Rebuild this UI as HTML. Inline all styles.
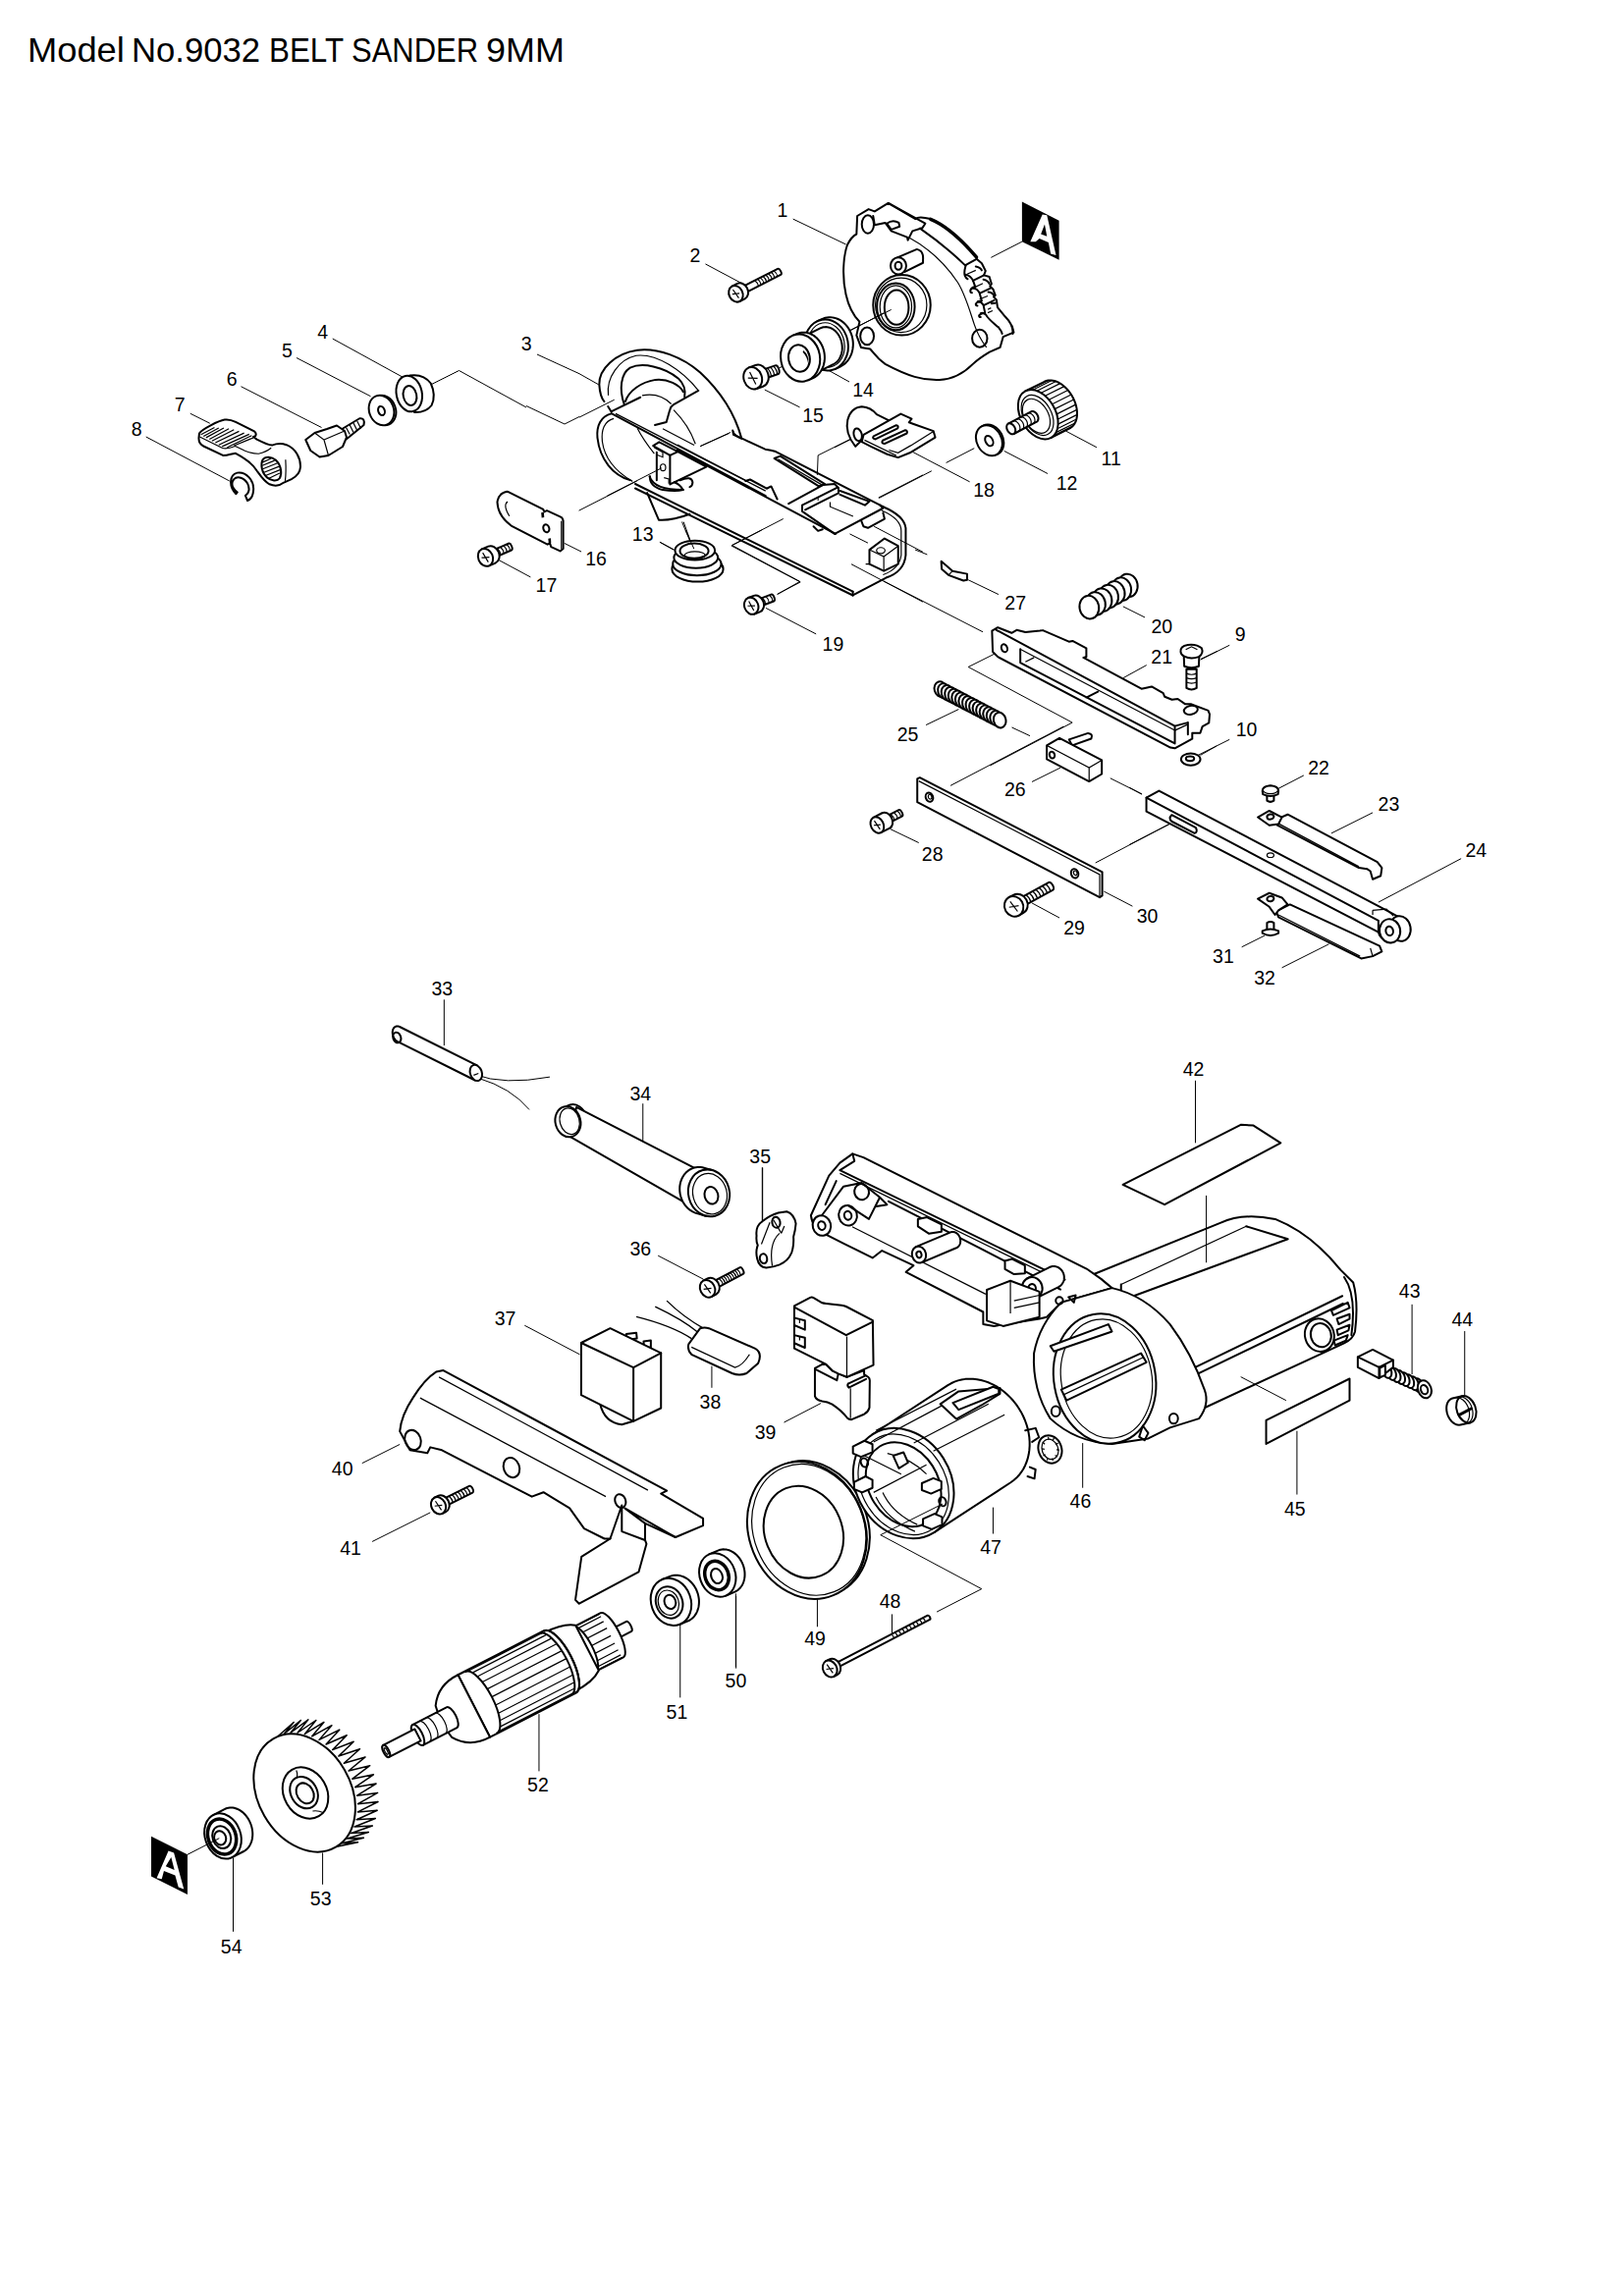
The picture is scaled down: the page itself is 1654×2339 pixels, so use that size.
<!DOCTYPE html>
<html><head><meta charset="utf-8">
<style>
html,body{margin:0;padding:0;background:#fff;width:1654px;height:2339px;overflow:hidden}
.tw{position:absolute;top:31.1px;font-family:"Liberation Sans",sans-serif;font-size:35px;line-height:normal;color:#000;white-space:nowrap;transform-origin:0 0}
svg{position:absolute;left:0;top:0}
svg *{vector-effect:non-scaling-stroke}
.o{fill:none;stroke:#000;stroke-width:2;stroke-linejoin:round;stroke-linecap:round}
.l{fill:none;stroke:#000;stroke-width:1}
.d{fill:none;stroke:#000;stroke-width:1.2}
.w{fill:#fff;stroke:#000;stroke-width:2;stroke-linejoin:round}
.wf{fill:#fff;stroke:none}
.k{fill:#000;stroke:none}
text{font-family:"Liberation Sans",sans-serif;font-size:19.5px;fill:#000;text-anchor:middle}
</style></head><body>
<div class="tw" style="left:27.6px;transform:scaleX(1.037)">Model</div><div class="tw" style="left:134.2px;transform:scaleX(0.99)">No.9032</div><div class="tw" style="left:273.9px;transform:scaleX(0.895)">BELT</div><div class="tw" style="left:358.3px;transform:scaleX(0.885)">SANDER</div><div class="tw" style="left:495.4px;transform:scaleX(1.026)">9MM</div>
<svg width="1654" height="2339" viewBox="0 0 1654 2339">
<!-- t00.svg -->
<path class="o" d="M647,493L868.6,602.7M647,497.5L868.6,606.5"/>
<g transform="translate(600,440) scale(0.0985)">
<path class="o" d="M600,630L720,910Q850,920 1040,850"/>
<path class="o" d="M630,460Q620,560 760,600Q900,620 970,600Q940,540 880,520M940,500Q1060,450 1070,520Q1070,560 1040,570"/>
<path class="l" d="M960,930L1080,1218M730,1140L870,1218"/>
</g>
<text x="654.7" y="550.5">13</text>

<!-- t01.svg -->
<g transform="translate(130,320) scale(0.25)">
<path class="l" d="M835,100L1130,262M688,178L990,335M462,295L790,462M255,405L335,445M75,500L415,680M1240,285L1350,230L1624,380"/>
<!-- part 4 ring -->
<path class="w" d="M1150,250Q1205,242 1235,282Q1258,332 1238,372Q1215,402 1168,400Z"/>
<ellipse class="w" cx="1147" cy="324" rx="52" ry="74" transform="rotate(-12 1147 324)"/>
<ellipse class="o" cx="1150" cy="332" rx="27" ry="40" transform="rotate(-12 1150 332)"/>
<!-- part 5 washer -->
<ellipse class="w" cx="1042" cy="392" rx="50" ry="62" transform="rotate(-20 1042 392)"/>
<ellipse class="w" cx="1034" cy="392" rx="50" ry="62" transform="rotate(-20 1034 392)"/>
<ellipse class="o" cx="1034" cy="394" rx="13" ry="19" transform="rotate(-20 1034 394)"/>
<!-- part 6 hex + stud -->
<path class="w" d="M870,470L945,425Q968,422 962,452L893,508Z"/>
<path class="d" d="M890,462L905,490M905,452L920,482M920,444L935,474M935,436L950,466"/>
<path class="w" d="M725,512L762,484L812,468L852,454L884,476L892,502L876,540L818,576L782,582L745,556Z"/>
<path class="d" d="M762,484L800,512L818,576M800,512L884,476"/>
</g>
<g transform="translate(190,420) scale(0.0862)">
<!-- part 7 lever -->
<path class="w" d="M150,250C180,200 380,100 450,88C500,80 540,95 580,115L800,225Q830,245 815,280L790,290L830,320C880,345 960,385 1010,390C1050,375 1120,365 1180,385C1290,430 1350,540 1345,650C1340,720 1300,760 1240,790L1150,830C1100,870 1040,875 980,850C920,820 880,760 830,690C790,620 720,560 580,485L520,495Q470,510 430,510L200,400Q140,370 145,300Z"/>
<path class="d" d="M155,290L420,420Q470,440 575,400Q640,430 690,455Q780,490 850,490Q940,470 1000,420"/>
<path class="d" d="M1170,560C1175,650 1175,740 1165,810"/>
<path class="o" d="M900,560C930,520 1000,520 1060,570C1120,630 1130,730 1100,780C1070,820 1000,810 950,770C890,720 870,620 900,560Z"/>
<path class="d" d="M900,590L1000,545M895,630L1040,570M900,670L1075,600M915,710L1095,640M940,745L1105,680M975,780L1100,720"/>
<path class="d" d="M170,265L330,180M200,285L380,185M230,300L440,185M270,320L500,195M300,340L560,205M340,360L620,225M380,385L680,245M420,405L740,260M480,415L770,275M560,395L790,300"/>
<!-- part 8 e-ring -->
<path class="w" d="M585,965C500,880 500,740 600,715C700,700 800,800 790,920C785,990 760,1030 720,1045L695,985C740,960 750,900 720,840C680,770 600,750 560,790C520,840 545,900 600,945Z"/>
</g>
<text x="328.75" y="345">4</text>
<text x="292.5" y="363.5">5</text>
<text x="236.25" y="393">6</text>
<text x="183.25" y="419">7</text>
<text x="139.25" y="443.5">8</text>

<!-- t02.svg -->
<g transform="translate(590,345) scale(0.1232)">
<path class="o" d="M207,520C185,495 170,460 165,380C160,250 300,120 480,95C650,75 850,150 1000,280C1150,420 1280,600 1340,820M237,560L262,600"/>
<path class="o" d="M270,600L505,485M370,540C330,420 340,290 420,240C520,195 700,230 820,330C870,380 880,430 870,480"/>
<path class="o" d="M985,430L780,545Q755,560 748,590L720,690L625,715"/>
<path class="o" d="M380,520C410,430 510,360 630,340C730,330 830,380 860,440"/>
<path class="o" d="M265,620C180,640 140,720 150,820C170,1000 280,1130 420,1170"/>
<path class="o" d="M265,618L1540,1299"/>
<path class="d" d="M300,620L1540,1259"/>
<path class="d" d="M240,470C220,320 330,170 470,140C640,120 850,260 985,430"/>
<path class="d" d="M520,470C620,450 700,480 760,540M780,590C850,660 920,760 960,870M690,745L950,880"/>
<path class="d" d="M285,660C205,680 180,760 190,850C210,1000 320,1110 440,1180"/>
<path class="d" d="M480,740C520,820 580,900 620,950"/>
<path class="o" d="M610,885L660,855L815,935L750,965Z"/>
<path class="o" d="M750,965L750,1205M815,935L1040,1055M750,1205L1050,1060M640,940L640,1170M580,1140C610,1220 700,1250 860,1250"/>
<ellipse class="d" cx="692" cy="1065" rx="22" ry="28"/>
<path class="d" d="M620,900L690,940L690,980L640,960M700,1150L740,1160L740,1200"/>
<path class="o" d="M1270,770L1275,795L1340,825"/>
<path class="l" d="M0,650L290,505M0,290L160,380M230,1300L680,1070M1000,890L1250,775"/>
</g>

<!-- t03.svg -->
<g transform="translate(690,430) scale(0.15394)">
<path class="o" d="M0,185L1045,740"/>
<path class="d" d="M0,150L450,385"/>
<path class="o" d="M365,55Q370,90 430,110L580,180Q620,185 650,195L1360,560"/>
<path class="o" d="M1360,560Q1500,620 1510,700L1510,880Q1500,990 1380,1030L1160,1145"/>
<path class="d" d="M1350,585Q1480,640 1480,720L1480,880Q1470,970 1360,1010"/>
<path class="o" d="M1160,1122L1160,1147"/>
<path class="o" d="M640,240L680,225L975,410L935,425Z"/>
<path class="d" d="M665,245L955,415"/>
<path class="o" d="M1075,455L1270,525L1240,550L1075,480"/>
<path class="o" d="M735,540L965,415L1040,410L1065,435L1065,470M825,550L1055,435M825,550L825,590L1040,740L1360,570L1340,550M845,580L1065,470"/>
<path class="d" d="M1010,530L1010,560L1200,640" stroke-dasharray="30,20"/>
<path class="o" d="M1215,650L1230,690L1260,700L1370,640L1360,600"/>
<path class="o" d="M450,390L480,380L590,440L620,425L660,510"/>
<path class="o" d="M900,690L930,720L960,710"/>
<path class="w" d="M1270,845L1370,770L1460,820L1460,940L1365,985L1270,940Z"/>
<path class="d" d="M1270,845L1365,890L1460,820M1365,890L1365,985M1270,940L1245,940"/>
<ellipse class="d" cx="1345" cy="850" rx="28" ry="20"/>
<path class="l" d="M360,815L700,640M360,815L810,1055L660,1140M1150,940L1624,1190M1140,740L1260,800M1300,690L1624,860M1180,95L930,220L925,350M930,500L930,520M1330,500L1624,350M150,160L340,75M40,660L105,840"/>
</g>

<!-- t04.svg -->
<g transform="translate(840,200) scale(0.15394)">
<path class="wf" d="M215,130L290,85L330,100L420,45L600,150Q620,130 700,150C800,190 900,280 1000,400L1010,430L1060,470L1070,520L1100,560L1110,620L1130,650L1135,720L1150,760L1240,860L1250,900L1180,930L1160,1000L1090,1030C1040,1060 1010,1080 980,1110C920,1170 850,1210 760,1215C650,1220 550,1190 400,1110C340,1070 320,1030 300,1010L240,1000L210,920L230,830C200,800 160,740 140,650C115,540 120,400 150,320C170,280 190,260 210,250Z"/>
<path class="o" d="M1000,400C900,280 800,190 700,150Q620,130 600,150L420,45L330,100L290,85L215,130L210,250C190,260 170,280 150,320C120,400 115,540 140,650C160,740 200,800 230,830L210,920L240,1000L300,1010C320,1030 340,1070 400,1110C550,1190 650,1220 760,1215C850,1210 920,1170 980,1110C1010,1080 1040,1060 1090,1030L1160,1000L1180,930L1250,900L1240,860"/>
<path class="o" d="M420,45L665,180L645,210L580,230L550,290L545,270L440,230L400,175L330,190L320,130"/>
<path class="o" d="M630,212C720,275 830,360 926,454"/>
<path class="o" style="stroke-width:3.5" d="M700,152C800,192 900,282 1003,402"/>
<path class="d" d="M560,275C700,350 800,450 880,570C930,650 960,760 990,850C1010,910 1040,960 1070,1000"/>
<ellipse class="w" cx="510" cy="720" rx="190" ry="200"/>
<ellipse class="d" cx="505" cy="720" rx="170" ry="180"/>
<ellipse class="o" cx="470" cy="730" rx="125" ry="155"/>
<ellipse class="d" cx="470" cy="730" rx="105" ry="140"/>
<ellipse class="o" cx="475" cy="735" rx="80" ry="115"/>
<path class="w" d="M480,405L610,350Q655,360 650,420L650,440L530,500Z"/>
<ellipse class="w" cx="487" cy="460" rx="52" ry="56"/>
<ellipse class="o" cx="487" cy="460" rx="22" ry="26"/>
<ellipse class="o" cx="280" cy="925" rx="45" ry="58"/>
<ellipse class="o" cx="1025" cy="940" rx="50" ry="58"/>
<ellipse class="o" cx="285" cy="185" rx="40" ry="60"/>
<path class="o" d="M410,180Q450,150 490,175L495,200L440,220Z"/>
<path class="k" d="M1305,35L1550,160L1550,420L1305,300Z"/>
<path d="M1360,300L1440,120L1470,125L1530,390L1495,380L1480,305L1420,280L1395,300ZM1430,250L1470,265L1455,185Z" fill="#fff"/>
<path class="l" d="M1100,405L1305,300M160,890L440,750"/>
</g>
<g transform="translate(960,220) scale(0.05542)">
<path class="o" d="M420,905L625,790"/>
<path class="o" d="M625,790L720,870L790,1010L760,1090L860,1120L900,1250L870,1290L930,1350L970,1460L940,1490L990,1540L1010,1680L1150,1850C1250,1950 1300,2050 1290,2165"/>
<path class="o" d="M425,910C405,980 395,1060 410,1100Q430,1150 460,1160M430,1080Q520,1100 560,1190L600,1300Q530,1310 510,1370Q510,1410 540,1410M560,1330Q640,1330 680,1420L720,1560Q640,1560 610,1620Q610,1650 640,1650M650,1570Q720,1580 750,1640L780,1780Q700,1790 670,1830Q670,1860 700,1860M700,1790Q760,1770 800,1820C840,1900 950,1980 1030,2050C1070,2100 1090,2140 1095,2165"/>
<path class="o" d="M560,1190L760,1090M690,1420L880,1330M760,1640L950,1550M610,930Q700,950 720,1000M750,1170Q840,1190 860,1250M840,1400Q920,1410 940,1460M900,1610L970,1600"/>
<path class="d" d="M450,1070L610,1000M570,1320L740,1240M680,1530L830,1470M830,1720L890,1690M830,1780L920,1740"/>
</g>
<text x="797" y="221">1</text>

<!-- t05.svg -->
<g transform="translate(700,240) scale(0.12315)">
<path class="l" d="M150,235L460,400M1160,1110L1340,1210M760,1095L900,1025M1340,790L1624,640M640,1275L930,1420"/>
<!-- part 14 -->
<path class="w" d="M1075.7,707.9L1115.7,689.9L1128.9,684.6L1142.4,680.5L1156.3,677.7L1170.3,676.2L1184.5,676.0L1198.7,677.0L1212.9,679.4L1226.9,683.1L1240.7,688.0L1254.2,694.1L1267.3,701.5L1279.9,709.9L1291.9,719.5L1303.4,730.1L1314.1,741.6L1324.1,754.1L1333.2,767.4L1341.4,781.4L1348.8,796.1L1355.1,811.3L1360.4,827.0L1364.7,843.1L1367.9,859.4L1370.0,875.9L1371.0,892.5L1370.8,909.0L1369.6,925.4L1367.2,941.6L1363.8,957.4L1359.3,972.8L1353.7,987.7L1347.2,1001.9L1339.6,1015.5L1331.2,1028.2L1321.8,1040.1L1311.7,1051.0L1300.8,1060.9L1289.2,1069.8L1277.0,1077.5L1264.3,1084.1L1224.3,1102.1Z"/>
<ellipse class="w" cx="1150.0" cy="905.0" rx="180.0" ry="212.0" transform="rotate(-10.0 1150.0 905.0)"/>
<ellipse class="d" cx="1150.0" cy="905.0" rx="150.0" ry="185.0" transform="rotate(-10.0 1150.0 905.0)"/>
<path class="w" d="M929.2,851.9L1099.2,766.9L1108.3,762.8L1117.6,759.6L1127.2,757.4L1137.0,756.2L1146.8,756.0L1156.7,756.7L1166.6,758.4L1176.4,761.1L1186.1,764.8L1195.6,769.3L1204.9,774.8L1213.8,781.1L1222.4,788.2L1230.6,796.2L1238.3,804.8L1245.4,814.2L1252.1,824.1L1258.1,834.6L1263.5,845.7L1268.2,857.1L1272.2,868.9L1275.5,881.0L1278.1,893.3L1279.9,905.7L1280.9,918.2L1281.2,930.7L1280.7,943.0L1279.4,955.2L1277.3,967.2L1274.5,978.8L1270.9,990.1L1266.7,1000.8L1261.7,1011.1L1256.1,1020.7L1249.8,1029.7L1243.0,1038.0L1235.6,1045.5L1227.8,1052.3L1219.5,1058.1L1210.8,1063.1L1040.8,1148.1Z"/>
<path class="w" d="M871.1,827.9L909.1,811.9L921.1,807.4L933.4,804.1L946.0,801.9L958.7,801.0L971.5,801.2L984.3,802.7L997.0,805.3L1009.6,809.2L1021.9,814.1L1034.0,820.2L1045.7,827.4L1056.9,835.6L1067.6,844.9L1077.8,855.0L1087.3,866.0L1096.0,877.8L1104.1,890.4L1111.3,903.5L1117.6,917.3L1123.1,931.6L1127.7,946.2L1131.3,961.1L1133.9,976.3L1135.5,991.6L1136.1,1006.9L1135.7,1022.2L1134.4,1037.2L1132.0,1052.1L1128.6,1066.6L1124.3,1080.6L1119.0,1094.1L1112.9,1107.1L1105.9,1119.3L1098.0,1130.8L1089.4,1141.4L1080.1,1151.2L1070.1,1160.0L1059.5,1167.8L1048.4,1174.5L1036.9,1180.1L998.9,1196.1Z"/>
<ellipse class="w" cx="935.0" cy="1012.0" rx="162.0" ry="196.0" transform="rotate(-10.0 935.0 1012.0)"/>
<ellipse class="o" cx="925.0" cy="1015.0" rx="88.0" ry="112.0" transform="rotate(-10.0 925.0 1015.0)"/>
<path class="k" d="M960,950Q1010,990 1000,1060Q990,1000 955,965Z"/>
</g>
<g transform="translate(754.8,296.6) rotate(-26.9)"><path class="w" d="M0,-3.4L43.5,-3.4A1.7,3.4 0 0 1 43.5,3.4L0,3.4Z"/><path class="d" d="M17.4,-3.4Q19.1,0 18.1,3.4M20.5,-3.4Q22.2,0 21.2,3.4M23.6,-3.4Q25.3,0 24.3,3.4M26.7,-3.4Q28.4,0 27.4,3.4M29.8,-3.4Q31.5,0 30.5,3.4M32.9,-3.4Q34.6,0 33.6,3.4M36.0,-3.4Q37.7,0 36.7,3.4M39.1,-3.4Q40.9,0 39.8,3.4"/><path class="w" d="M-6.0,-8.6L0,-8.6A6.9,8.6 0 0 1 0,8.6L-6.0,8.6Z"/><ellipse class="w" cx="-6.0" cy="0" rx="6.9" ry="8.6"/><path class="d" d="M-9.4,-1.3L-2.6,1.3M-6.7,-5.2L-5.3,5.2"/></g>
<g transform="translate(773.3,382.9) rotate(-19.2)"><path class="w" d="M0,-4.6L18.8,-4.6A2.3,4.6 0 0 1 18.8,4.6L0,4.6Z"/><path class="d" d="M3.8,-4.6Q6.1,0 4.7,4.6M7.1,-4.6Q9.4,0 8.0,4.6M10.3,-4.6Q12.6,0 11.3,4.6M13.6,-4.6Q15.9,0 14.6,4.6M16.9,-4.6Q19.2,0 17.8,4.6"/><path class="w" d="M-7.0,-11.5L0,-11.5A9.2,11.5 0 0 1 0,11.5L-7.0,11.5Z"/><ellipse class="w" cx="-7.0" cy="0" rx="9.2" ry="11.5"/><path class="d" d="M-11.6,-1.7L-2.4,1.7M-7.9,-6.9L-6.1,6.9"/></g>
<text x="708" y="267">2</text>
<text x="879" y="404">14</text>
<text x="828" y="430">15</text>

<!-- t06.svg -->
<g transform="translate(850,380) scale(0.18473)">
<path class="l" d="M430,435L745,600M0,410L130,345M935,430L1175,555M770,415L615,495M535,540L245,690M1275,320L1445,410"/>
<!-- part 18 -->
<path class="w" d="M115,405Q55,330 72,258Q90,190 150,185Q200,188 232,228L300,262L140,380Z"/>
<path class="w" d="M160,340L365,225L425,252L410,272L432,280L545,320L555,355L415,440L350,466L290,448L200,405L150,380Z"/>
<path class="d" d="M165,370L340,455M545,322L420,400L350,440L300,425"/>
<ellipse class="o" cx="128" cy="340" rx="22" ry="35" transform="rotate(-15 128 340)"/>
<path class="o" d="M215,348L340,288Q355,290 348,305L225,365Q205,362 215,348ZM265,372L390,315Q405,318 398,333L275,390Q255,387 265,372Z"/>
<!-- part 12 -->
<ellipse class="w" cx="860" cy="368" rx="68" ry="88" transform="rotate(-28 860 368)"/>
<ellipse class="w" cx="852" cy="372" rx="68" ry="88" transform="rotate(-28 852 372)"/>
<ellipse class="o" cx="852" cy="374" rx="20" ry="30" transform="rotate(-28 852 374)"/>
</g>
<g transform="translate(1020,380) scale(0.05542)">
<path class="w" d="M439.1,333.3L789.1,158.3L812.1,148.1L836.5,140.7L862.0,136.0L888.5,134.0L915.8,134.9L943.7,138.5L972.2,145.0L1000.9,154.1L1029.8,165.9L1058.6,180.3L1087.2,197.2L1115.4,216.6L1143.0,238.2L1169.9,261.9L1195.9,287.7L1220.8,315.3L1244.5,344.6L1266.8,375.3L1287.6,407.4L1306.7,440.6L1324.1,474.7L1339.6,509.5L1353.2,544.7L1364.8,580.2L1374.2,615.8L1381.4,651.2L1386.5,686.2L1389.2,720.5L1389.8,754.1L1388.0,786.6L1384.0,817.9L1377.8,847.8L1369.4,876.0L1358.8,902.5L1346.2,927.1L1331.5,949.5L1315.0,969.7L1296.6,987.5L1276.5,1002.9L1254.9,1015.7L904.9,1190.7Z"/>
<path class="d" d="M503.4,312.2L853.4,137.2M575.0,310.8L925.0,135.8M650.9,329.1L1000.9,154.1M727.7,366.3L1077.7,191.3M802.1,420.9L1152.1,245.9M870.8,490.3L1220.8,315.3M930.8,571.6L1280.8,396.6M979.5,661.2L1329.5,486.2M1014.8,755.2L1364.8,580.2M1035.0,849.6L1385.0,674.6M1039.4,940.1L1389.4,765.1M1027.8,1022.8L1377.8,847.8M1000.6,1094.1L1350.6,919.1M959.0,1150.9L1309.0,975.9"/>
<ellipse class="w" cx="672.0" cy="762.0" rx="320.0" ry="488.0" transform="rotate(-29.5 672.0 762.0)"/>
<ellipse class="d" cx="660.0" cy="775.0" rx="255.0" ry="400.0" transform="rotate(-29.5 660.0 775.0)"/>
<ellipse class="d" cx="640.0" cy="790.0" rx="220.0" ry="340.0" transform="rotate(-29.5 640.0 790.0)"/>
<path class="w" d="M123.4,931.3L543.4,709.3L548.6,706.9L554.0,705.1L559.7,704.0L565.6,703.4L571.7,703.5L577.9,704.1L584.2,705.4L590.6,707.3L597.1,709.8L603.5,712.8L609.8,716.4L616.1,720.5L622.3,725.2L628.2,730.3L634.0,735.9L639.5,741.9L644.8,748.2L649.7,754.9L654.3,761.9L658.6,769.2L662.4,776.6L665.9,784.3L668.9,792.0L671.4,799.8L673.5,807.6L675.1,815.4L676.2,823.1L676.8,830.7L676.8,838.2L676.4,845.4L675.5,852.3L674.1,859.0L672.2,865.2L669.8,871.2L667.0,876.7L663.7,881.7L660.0,886.2L655.9,890.3L651.4,893.8L646.6,896.7L226.6,1118.7Z"/>
<ellipse class="w" cx="175.0" cy="1025.0" rx="72.0" ry="107.0" transform="rotate(-29.5 175.0 1025.0)"/>
<path class="d" d="M207.4,886.9L220.8,882.1L235.7,881.1L251.4,883.9L267.5,890.4L283.2,900.4L298.0,913.5L311.3,929.1L322.6,946.8L331.4,965.7L337.5,985.2L340.5,1004.6L340.4,1023.0L337.2,1039.7L331.0,1054.3L322.0,1065.9L310.6,1074.3M275.7,850.8L289.1,846.0L303.9,845.0L319.7,847.8L335.7,854.3L351.5,864.3L366.2,877.4L379.5,893.1L390.8,910.7L399.7,929.6L405.7,949.1L408.8,968.5L408.7,986.9L405.5,1003.7L399.2,1018.2L390.2,1029.9L378.8,1038.3M343.9,814.7L357.3,809.9L372.2,808.9L387.9,811.7L404.0,818.3L419.7,828.3L434.5,841.3L447.8,857.0L459.1,874.6L467.9,893.6L474.0,913.1L477.0,932.4L476.9,950.8L473.7,967.6L467.5,982.1L458.5,993.8L447.1,1002.2M412.2,778.6L425.6,773.8L440.4,772.8L456.2,775.6L472.2,782.2L488.0,792.2L502.7,805.3L516.0,820.9L527.3,838.6L536.2,857.5L542.2,877.0L545.3,896.3L545.2,914.7L542.0,931.5L535.7,946.0L526.7,957.7L515.3,966.1M480.4,742.6L493.8,737.8L508.7,736.8L524.4,739.6L540.5,746.1L556.2,756.1L571.0,769.2L584.3,784.8L595.6,802.5L604.4,821.4L610.5,840.9L613.5,860.3L613.4,878.7L610.2,895.4L604.0,910.0L595.0,921.6L583.6,930.0"/>
</g>
<text x="1002" y="505.5">18</text>
<text x="1086.5" y="499">12</text>
<text x="1131.7" y="474">11</text>

<!-- t07.svg -->
<g transform="translate(480,490) scale(0.12315)">
<path class="l" d="M770,515L910,585M220,650L490,795M890,245L1370,0"/>
<path class="w" d="M295,88Q225,100 215,175Q220,290 330,370L630,525L650,515L660,545L735,580L760,560L760,330Q758,305 735,295L625,245L605,255L595,235L310,92Z"/>
<path class="d" d="M745,330L745,565M300,170Q260,200 315,290"/>
<path class="k" d="M578,262L600,258L603,300L582,305ZM636,478L658,474L660,512L640,516Z"/>
<ellipse class="o" cx="620" cy="392" rx="24" ry="33" transform="rotate(-20 620 392)"/>
</g>
<g transform="translate(500.9,565.1) rotate(-23.4)"><path class="w" d="M0,-3.7L20.1,-3.7A1.9,3.7 0 0 1 20.1,3.7L0,3.7Z"/><path class="d" d="M4.0,-3.7Q5.9,0 4.8,3.7M7.5,-3.7Q9.4,0 8.3,3.7M11.1,-3.7Q12.9,0 11.8,3.7M14.6,-3.7Q16.4,0 15.3,3.7M18.1,-3.7Q19.9,0 18.8,3.7"/><path class="w" d="M-7.0,-9.2L0,-9.2A7.4,9.2 0 0 1 0,9.2L-7.0,9.2Z"/><ellipse class="w" cx="-7.0" cy="0" rx="7.4" ry="9.2"/><path class="d" d="M-10.7,-1.4L-3.3,1.4M-7.7,-5.5L-6.3,5.5"/></g>
<text x="607" y="576">16</text>
<text x="556.4" y="603">17</text>

<!-- t08.svg -->
<g transform="translate(660,540) scale(0.12315)">
<path class="l" d="M100,100L220,165M690,130L940,0M690,130L1260,430L1070,530M975,645L1390,860"/>
<ellipse class="w" cx="410" cy="322" rx="212" ry="105"/>
<ellipse class="w" cx="405" cy="280" rx="200" ry="95"/>
<ellipse class="w" cx="396" cy="228" rx="182" ry="86"/>
<ellipse class="w" cx="388" cy="168" rx="165" ry="80"/>
<ellipse class="o" cx="382" cy="172" rx="118" ry="62"/>
<ellipse class="d" cx="388" cy="208" rx="85" ry="30"/>
<path class="l" d="M310,0L380,155"/>
</g>
<g transform="translate(770.8,615.1) rotate(-20.9)"><path class="w" d="M0,-3.7L17.0,-3.7A1.9,3.7 0 0 1 17.0,3.7L0,3.7Z"/><path class="d" d="M3.4,-3.7Q5.2,0 4.1,3.7M7.4,-3.7Q9.2,0 8.1,3.7M11.3,-3.7Q13.2,0 12.1,3.7M15.3,-3.7Q17.2,0 16.0,3.7"/><path class="w" d="M-6.0,-8.8L0,-8.8A7.0,8.8 0 0 1 0,8.8L-6.0,8.8Z"/><ellipse class="w" cx="-6.0" cy="0" rx="7.0" ry="8.8"/><path class="d" d="M-9.5,-1.3L-2.5,1.3M-6.7,-5.3L-5.3,5.3"/></g>
<text x="848.4" y="662.5">19</text>

<!-- t09.svg -->
<path class="l" d="M536,413.5L575,432L590,424.5M547,361L590,380.7M807.7,223.1L861.6,249"/>
<text x="536.2" y="356.5">3</text>

<!-- t10.svg -->
<g transform="translate(900,560) scale(0.2463)">
<path class="l" d="M350,125L475,185M130,0L180,20M990,235L1080,280M0,130L410,340M470,425L350,485L780,715L440,893M175,725L310,660M530,735L605,770M1430,785L1300,850M1310,455L1430,395"/>
<path class="w" d="M238,48L240,80L268,105L330,128L345,125L345,100L285,88Z"/><path class="d" d="M268,105L285,88"/>
<ellipse class="w" cx="1010.0" cy="148.0" rx="40.0" ry="48.0" transform="rotate(-10.0 1010.0 148.0)"/>
<ellipse class="w" cx="983.3" cy="163.0" rx="40.0" ry="48.0" transform="rotate(-10.0 983.3 163.0)"/>
<ellipse class="w" cx="956.7" cy="178.0" rx="40.0" ry="48.0" transform="rotate(-10.0 956.7 178.0)"/>
<ellipse class="w" cx="930.0" cy="193.0" rx="40.0" ry="48.0" transform="rotate(-10.0 930.0 193.0)"/>
<ellipse class="w" cx="903.3" cy="208.0" rx="40.0" ry="48.0" transform="rotate(-10.0 903.3 208.0)"/>
<ellipse class="w" cx="876.7" cy="223.0" rx="40.0" ry="48.0" transform="rotate(-10.0 876.7 223.0)"/>
<ellipse class="w" cx="850.0" cy="238.0" rx="40.0" ry="48.0" transform="rotate(-10.0 850.0 238.0)"/>
<ellipse class="w" cx="235.0" cy="577.0" rx="25.0" ry="32.0" transform="rotate(-15.0 235.0 577.0)"/>
<ellipse class="w" cx="249.4" cy="584.5" rx="25.0" ry="32.0" transform="rotate(-15.0 249.4 584.5)"/>
<ellipse class="w" cx="263.8" cy="592.1" rx="25.0" ry="32.0" transform="rotate(-15.0 263.8 592.1)"/>
<ellipse class="w" cx="278.2" cy="599.6" rx="25.0" ry="32.0" transform="rotate(-15.0 278.2 599.6)"/>
<ellipse class="w" cx="292.6" cy="607.1" rx="25.0" ry="32.0" transform="rotate(-15.0 292.6 607.1)"/>
<ellipse class="w" cx="307.1" cy="614.6" rx="25.0" ry="32.0" transform="rotate(-15.0 307.1 614.6)"/>
<ellipse class="w" cx="321.5" cy="622.2" rx="25.0" ry="32.0" transform="rotate(-15.0 321.5 622.2)"/>
<ellipse class="w" cx="335.9" cy="629.7" rx="25.0" ry="32.0" transform="rotate(-15.0 335.9 629.7)"/>
<ellipse class="w" cx="350.3" cy="637.2" rx="25.0" ry="32.0" transform="rotate(-15.0 350.3 637.2)"/>
<ellipse class="w" cx="364.7" cy="644.8" rx="25.0" ry="32.0" transform="rotate(-15.0 364.7 644.8)"/>
<ellipse class="w" cx="379.1" cy="652.3" rx="25.0" ry="32.0" transform="rotate(-15.0 379.1 652.3)"/>
<ellipse class="w" cx="393.5" cy="659.8" rx="25.0" ry="32.0" transform="rotate(-15.0 393.5 659.8)"/>
<ellipse class="w" cx="407.9" cy="667.4" rx="25.0" ry="32.0" transform="rotate(-15.0 407.9 667.4)"/>
<ellipse class="w" cx="422.4" cy="674.9" rx="25.0" ry="32.0" transform="rotate(-15.0 422.4 674.9)"/>
<ellipse class="w" cx="436.8" cy="682.4" rx="25.0" ry="32.0" transform="rotate(-15.0 436.8 682.4)"/>
<ellipse class="w" cx="451.2" cy="689.9" rx="25.0" ry="32.0" transform="rotate(-15.0 451.2 689.9)"/>
<ellipse class="w" cx="465.6" cy="697.5" rx="25.0" ry="32.0" transform="rotate(-15.0 465.6 697.5)"/>
<ellipse class="w" cx="480.0" cy="705.0" rx="25.0" ry="32.0" transform="rotate(-15.0 480.0 705.0)"/>
</g>
<g transform="translate(1000,630) scale(0.14778)">
<path class="w" d="M70,85L110,62L205,100L240,80L300,95L400,85L420,82L600,160L625,155L720,205L720,265L700,270L1100,485L1170,470L1250,515L1260,540L1310,560L1350,555L1400,590L1440,590L1560,635L1570,660L1565,720L1520,745L1505,790L1450,790L1450,830L1330,895L1300,890L110,265L75,230Z"/>
<path class="o" d="M100,80L1330,742L1420,718M265,212L265,305L1330,862M720,545L800,505M1330,742L1330,862M1420,718L1420,800"/>
<path class="d" d="M270,215L1330,772M300,300L360,270M1330,772L1420,730M700,270L720,265"/>
<ellipse class="o" cx="155.0" cy="205.0" rx="20.0" ry="28.0" transform="rotate(-20.0 155.0 205.0)"/>
<ellipse class="o" cx="1440.0" cy="632.0" rx="48.0" ry="30.0" transform="rotate(-10.0 1440.0 632.0)"/>
<path class="w" d="M1410,480L1410,350L1480,350L1480,480Q1445,500 1410,480Z"/>
<path class="d" d="M1410,380Q1445,395 1480,380M1410,410Q1445,425 1480,410M1410,440Q1445,455 1480,440"/>
<path class="w" d="M1392,260L1395,330Q1445,350 1495,330L1498,260Z"/>
<path class="w" d="M1370,230Q1365,190 1420,182Q1480,175 1515,205Q1530,240 1495,265Q1440,285 1395,262Q1372,250 1370,230Z"/>
<path class="d" d="M1405,215L1445,195L1485,215"/>
<path class="l" d="M975,410L1135,322M1510,280L1624,225"/>
</g>
<text x="1034.2" y="620.5">27</text>
<text x="1183.3" y="645">20</text>
<text x="1183.2" y="675.5">21</text>
<text x="1263.3" y="652.5">9</text>
<text x="924.6" y="754.5">25</text>
<text x="1269.5" y="749.5">10</text>

<!-- t11.svg -->
<g transform="translate(870,740) scale(0.21552)">
<path class="l" d="M1180,780L1315,850M455,280L990,0M1140,645L1520,445M840,262L975,195M1210,245L1360,320M170,485L305,550M840,835L970,905"/>
<path class="w" d="M298,248L310,242L1172,688L1172,800L1160,808L298,358Z"/>
<path class="d" d="M305,258L1160,700L1160,808"/>
<ellipse class="o" cx="355.0" cy="335.0" rx="17.0" ry="22.0" transform="rotate(-20.0 355.0 335.0)"/><ellipse class="o" cx="1042.0" cy="695.0" rx="17.0" ry="22.0" transform="rotate(-20.0 1042.0 695.0)"/><ellipse class="d" cx="358.0" cy="333.0" rx="8.0" ry="11.0" transform="rotate(-20.0 358.0 333.0)"/><ellipse class="d" cx="1045.0" cy="693.0" rx="8.0" ry="11.0" transform="rotate(-20.0 1045.0 693.0)"/>
<path class="w" d="M1015,62L1105,32Q1130,35 1120,58L1030,90Z"/>
<path class="w" d="M910,90L970,55L1170,160L1170,225L1110,260L910,155Z"/>
<path class="d" d="M910,90L1110,195L1170,160M1110,195L1110,260"/>
<ellipse class="o" cx="935.0" cy="135.0" rx="12.0" ry="16.0" transform="rotate(-20.0 935.0 135.0)"/>
</g>
<g transform="translate(902.3,835.9) rotate(-27.0)"><path class="w" d="M0,-3.6L16.5,-3.6A1.8,3.6 0 0 1 16.5,3.6L0,3.6Z"/><path class="d" d="M3.3,-3.6Q5.1,0 4.0,3.6M7.2,-3.6Q9.0,0 7.9,3.6M11.0,-3.6Q12.8,0 11.7,3.6M14.8,-3.6Q16.6,0 15.6,3.6"/><path class="w" d="M-10.0,-8.6L0,-8.6A6.4,8.6 0 0 1 0,8.6L-10.0,8.6Z"/><ellipse class="w" cx="-10.0" cy="0" rx="6.4" ry="8.6"/><path class="d" d="M-13.2,-1.3L-6.8,1.3M-10.6,-5.2L-9.4,5.2"/></g>
<g transform="translate(1037.0,921.0) rotate(-28.7)"><path class="w" d="M0,-4.3L38.0,-4.3A2.1,4.3 0 0 1 38.0,4.3L0,4.3Z"/><path class="d" d="M7.6,-4.3Q9.8,0 8.5,4.3M11.4,-4.3Q13.6,0 12.3,4.3M15.2,-4.3Q17.4,0 16.1,4.3M19.0,-4.3Q21.2,0 19.9,4.3M22.8,-4.3Q24.9,0 23.7,4.3M26.6,-4.3Q28.8,0 27.5,4.3M30.4,-4.3Q32.6,0 31.3,4.3M34.2,-4.3Q36.4,0 35.1,4.3"/><path class="w" d="M-5.0,-10.5L0,-10.5A9.5,10.5 0 0 1 0,10.5L-5.0,10.5Z"/><ellipse class="w" cx="-5.0" cy="0" rx="9.5" ry="10.5"/><path class="d" d="M-9.7,-1.6L-0.3,1.6M-5.9,-6.3L-4.1,6.3"/></g>
<text x="1168.5" y="940">30</text>
<text x="1033.8" y="811">26</text>
<text x="949.7" y="876.5">28</text>
<text x="1094.1" y="952">29</text>
<g transform="translate(1150,760) scale(0.234)">
<path class="l" d="M1085,680L1445,490M0,430L195,330M0,180L55,210M880,380L1060,290M650,185L760,128M665,965L870,862M490,875L590,825M310,40L380,0"/>
<path class="w" d="M75,225L130,195L1120,715L1175,745Q1225,760 1222,800Q1215,850 1170,845L1130,850Q1090,840 1085,810L75,285Z"/>
<path class="o" d="M75,225L1085,760L1085,810"/>
<path class="d" d="M1060,715L1120,710L1150,740M1060,715L1060,735"/>
<path class="o" d="M185,300L290,355Q300,375 285,380L185,328Q170,315 185,300Z"/>
<ellipse class="d" cx="615.0" cy="475.0" rx="15.0" ry="10.0" transform="rotate(0.0 615.0 475.0)"/>
<ellipse class="w" cx="1180.0" cy="795.0" rx="45.0" ry="55.0" transform="rotate(-10.0 1180.0 795.0)"/><ellipse class="w" cx="1135.0" cy="805.0" rx="45.0" ry="52.0" transform="rotate(-10.0 1135.0 805.0)"/><ellipse class="o" cx="1133.0" cy="805.0" rx="16.0" ry="20.0" transform="rotate(-10.0 1133.0 805.0)"/>
<path class="w" d="M640,320L690,298L1080,505L1100,530L1095,565L1060,580L1050,545L1035,535L1000,530L645,345Z"/>
<path class="d" d="M645,335L1000,525"/>
<path class="w" d="M560,310L610,282L665,310L650,340L610,345Z"/>
<ellipse class="o" cx="615.0" cy="308.0" rx="15.0" ry="11.0" transform="rotate(-10.0 615.0 308.0)"/>
<path class="w" d="M640,720L700,690L1090,870L1100,895L1060,915L1010,925L650,745Z"/>
<path class="d" d="M650,735L1005,915M1050,880L1060,915"/>
<path class="w" d="M560,665L610,640L665,660L690,690L650,715L635,735L610,700Z"/>
<ellipse class="o" cx="615.0" cy="665.0" rx="15.0" ry="11.0" transform="rotate(-10.0 615.0 665.0)"/>
<path class="w" d="M600,205L600,238Q615,248 630,238L630,205Z"/>
<path class="w" d="M580,195Q580,175 615,172Q650,175 650,195L648,210Q615,225 582,210Z"/>
<ellipse class="d" cx="615.0" cy="190.0" rx="33.0" ry="18.0" transform="rotate(0.0 615.0 190.0)"/>
<path class="w" d="M600,770Q615,760 630,770L630,800L600,800Z"/>
<path class="w" d="M580,805Q615,790 650,805L650,815Q615,835 580,815Z"/>
<ellipse class="w" cx="268.0" cy="58.0" rx="42.0" ry="26.0" transform="rotate(0.0 268.0 58.0)"/><ellipse class="o" cx="265.0" cy="55.0" rx="18.0" ry="10.0" transform="rotate(0.0 265.0 55.0)"/>
</g>
<text x="1503.3" y="873">24</text>
<text x="1414.4" y="826">23</text>
<text x="1343" y="788.5">22</text>
<text x="1288" y="1002.5">32</text>
<text x="1245.9" y="980.5">31</text>

<!-- t12.svg -->
<g transform="translate(390,990) scale(0.2463)">
<path class="l" d="M253,115L253,305M1075,545L1075,700M1570,810L1570,1030"/>
<path class="l" d="M380,425Q500,470 690,435M395,440Q530,480 605,570"/>
<path class="w" d="M380.9,448.6L60.9,288.6L59.0,287.5L57.1,286.2L55.2,284.8L53.4,283.2L51.7,281.5L50.0,279.6L48.4,277.6L47.0,275.4L45.6,273.2L44.4,270.8L43.3,268.4L42.3,265.9L41.5,263.4L40.8,260.8L40.3,258.2L39.9,255.6L39.7,253.1L39.6,250.5L39.7,248.0L40.0,245.6L40.4,243.2L40.9,241.0L41.6,238.8L42.4,236.8L43.4,234.8L44.5,233.1L45.8,231.5L47.1,230.0L48.6,228.7L50.2,227.6L51.8,226.7L53.6,226.0L55.4,225.5L57.3,225.1L59.2,225.0L61.1,225.1L63.1,225.4L65.1,225.9L67.1,226.6L69.1,227.4L389.1,387.4Z"/>
<ellipse class="w" cx="385.0" cy="418.0" rx="24.0" ry="34.0" transform="rotate(-20.0 385.0 418.0)"/>
<ellipse class="o" cx="58.0" cy="272.0" rx="16.0" ry="22.0" transform="rotate(-20.0 58.0 272.0)"/>
<path class="d" d="M375,428L395,420"/>
<ellipse class="w" cx="790.0" cy="610.0" rx="52.0" ry="62.0" transform="rotate(-15.0 790.0 610.0)"/>
<path class="w" d="M800,560L1320,828L1345,990L1240,950L770,680Z"/>
<ellipse class="w" cx="765.0" cy="620.0" rx="52.0" ry="64.0" transform="rotate(-15.0 765.0 620.0)"/>
<ellipse class="d" cx="772.0" cy="618.0" rx="40.0" ry="55.0" transform="rotate(-15.0 772.0 618.0)"/>
<path class="w" d="M1333.3,1009.3L1298.3,999.3L1291.7,997.2L1285.3,994.5L1279.0,991.3L1272.9,987.5L1267.0,983.2L1261.5,978.4L1256.2,973.2L1251.4,967.6L1246.9,961.6L1242.8,955.2L1239.1,948.5L1235.9,941.5L1233.1,934.4L1230.9,927.0L1229.2,919.5L1227.9,911.9L1227.2,904.3L1227.1,896.7L1227.4,889.1L1228.3,881.6L1229.7,874.3L1231.7,867.2L1234.1,860.3L1237.0,853.6L1240.4,847.3L1244.2,841.3L1248.5,835.8L1253.1,830.6L1258.1,826.0L1263.5,821.8L1269.2,818.1L1275.1,814.9L1281.3,812.4L1287.6,810.3L1294.2,808.9L1300.8,808.1L1307.5,807.8L1314.2,808.2L1321.0,809.1L1327.7,810.7L1362.7,820.7Z"/>
<ellipse class="w" cx="1348.0" cy="915.0" rx="85.0" ry="98.0" transform="rotate(-15.0 1348.0 915.0)"/>
<ellipse class="d" cx="1352.0" cy="918.0" rx="70.0" ry="85.0" transform="rotate(-15.0 1352.0 918.0)"/><ellipse class="o" cx="1358.0" cy="925.0" rx="28.0" ry="36.0" transform="rotate(-15.0 1358.0 925.0)"/>
</g>
<text x="450.3" y="1013.5">33</text>
<text x="652.3" y="1120.5">34</text>
<text x="774.2" y="1184.5">35</text>
<text x="652.3" y="1278.5">36</text>

<!-- t13.svg -->
<g transform="translate(800,1120) scale(0.36946)">
<path class="w" d="M930,235L1255,70L1290,72L1365,120L1045,290Z"/>
<path class="w" d="M830,490L1200,340Q1260,312 1350,330Q1450,370 1530,470L1565,505Q1580,560 1570,640Q1565,660 1540,672L1130,862L1100,870L1040,700Z"/>
<path class="o" d="M1540,490Q1575,540 1560,650M1110,748L1535,542M1105,772L1537,563"/>
<path class="o" d="M925,555L1385,385L1270,350M925,510L925,555"/><path class="d" d="M925,510L1270,350"/>
<path class="o" d="M1505,582L1550,560L1555,575L1510,595ZM1520,605L1555,592L1555,605L1525,620ZM1520,635L1555,622L1552,637L1523,650ZM1512,665L1550,650L1545,665L1515,678Z"/>
<ellipse class="w" cx="1472.0" cy="650.0" rx="40.0" ry="46.0" transform="rotate(-15.0 1472.0 650.0)"/><ellipse class="o" cx="1476.0" cy="650.0" rx="28.0" ry="33.0" transform="rotate(-15.0 1476.0 650.0)"/>
<path class="w" d="M120,210L150,175L185,150L215,160L830,467L870,495L900,520L760,560L720,600L700,605L575,625L545,620L545,586L332,476L353,458L266,417L240,437L162,398L110,372Q75,360 70,320Z"/>
<path class="o" d="M150,195L770,497M284,281L758,524M185,150L190,170L150,195"/>
<path class="d" d="M184,351L552,537M150,204L765,505"/>
<ellipse class="w" cx="100.0" cy="348.0" rx="25.0" ry="28.0" transform="rotate(-15.0 100.0 348.0)"/><ellipse class="o" cx="100.0" cy="348.0" rx="10.0" ry="12.0" transform="rotate(-15.0 100.0 348.0)"/><ellipse class="w" cx="172.0" cy="320.0" rx="25.0" ry="28.0" transform="rotate(-15.0 172.0 320.0)"/><ellipse class="o" cx="172.0" cy="320.0" rx="10.0" ry="12.0" transform="rotate(-15.0 172.0 320.0)"/><ellipse class="o" cx="210.0" cy="255.0" rx="20.0" ry="22.0" transform="rotate(-15.0 210.0 255.0)"/>
<path class="o" d="M100,320L160,240L210,230L260,270L230,330L172,292M110,290L140,225M260,270L280,290L250,295"/>
<path class="w" d="M360.0,406.5L455.0,366.5L456.4,366.0L457.9,365.6L459.3,365.4L460.8,365.2L462.3,365.3L463.9,365.5L465.4,365.8L466.9,366.2L468.3,366.8L469.8,367.6L471.2,368.4L472.5,369.4L473.8,370.4L475.0,371.6L476.2,372.9L477.2,374.3L478.2,375.8L479.1,377.3L479.9,378.9L480.6,380.6L481.1,382.3L481.6,384.1L481.9,385.8L482.2,387.6L482.3,389.4L482.3,391.2L482.1,392.9L481.9,394.7L481.5,396.3L481.1,398.0L480.5,399.6L479.8,401.1L479.0,402.5L478.1,403.8L477.1,405.0L476.0,406.2L474.9,407.2L473.6,408.1L472.3,408.9L471.0,409.5L376.0,449.5Z"/>
<ellipse class="w" cx="368.0" cy="428.0" rx="19.0" ry="23.0" transform="rotate(-15.0 368.0 428.0)"/><ellipse class="o" cx="368.0" cy="428.0" rx="7.0" ry="9.0" transform="rotate(-15.0 368.0 428.0)"/>
<path class="w" d="M667.2,492.9L727.2,462.9L729.2,462.0L731.3,461.3L733.4,460.7L735.6,460.4L737.8,460.2L740.0,460.1L742.2,460.3L744.4,460.7L746.6,461.2L748.7,461.9L750.8,462.8L752.8,463.9L754.7,465.1L756.5,466.4L758.3,468.0L759.9,469.6L761.4,471.4L762.8,473.3L764.0,475.3L765.1,477.4L766.0,479.5L766.8,481.7L767.4,484.0L767.8,486.3L768.1,488.7L768.1,491.0L768.1,493.4L767.8,495.7L767.4,498.0L766.8,500.2L766.0,502.4L765.1,504.5L764.0,506.5L762.8,508.4L761.4,510.2L759.9,511.8L758.3,513.4L756.5,514.8L754.7,516.0L752.8,517.1L692.8,547.1Z"/>
<ellipse class="w" cx="680.0" cy="520.0" rx="28.0" ry="30.0" transform="rotate(-15.0 680.0 520.0)"/><ellipse class="o" cx="680.0" cy="520.0" rx="10.0" ry="11.0" transform="rotate(-15.0 680.0 520.0)"/>
<path class="w" d="M365,330L390,325L430,345L430,365L395,370L365,350Z"/>
<path class="w" d="M605,445L625,440L660,458L660,480L630,482L605,468Z"/>
<path class="w" d="M555,525L620,500L700,530L700,600L600,625L555,610Z"/><path class="d" d="M620,500L620,590M630,555L700,540M630,575L700,560"/>
<path class="w" d="M760,560Q700,620 685,700Q680,800 730,880Q800,945 900,950L1000,935L1060,905L1140,880Q1170,840 1155,800Q1120,700 1060,620Q990,540 900,520Z"/>
<ellipse class="w" cx="880.0" cy="770.0" rx="140.0" ry="180.0" transform="rotate(-10.0 880.0 770.0)"/>
<ellipse class="d" cx="885.0" cy="770.0" rx="125.0" ry="165.0" transform="rotate(-10.0 885.0 770.0)"/>
<path class="w" d="M730,680L890,620L900,640L740,695Z"/>
<path class="w" d="M760,800L980,700L995,725L775,830Z"/><path class="d" d="M765,815L985,712"/>
<ellipse class="o" cx="745.0" cy="860.0" rx="12.0" ry="14.0" transform="rotate(0.0 745.0 860.0)"/><ellipse class="o" cx="1070.0" cy="880.0" rx="12.0" ry="14.0" transform="rotate(0.0 1070.0 880.0)"/><ellipse class="o" cx="755.0" cy="555.0" rx="10.0" ry="10.0" transform="rotate(0.0 755.0 555.0)"/>
<path class="o" d="M780,545L800,540L795,560Z M985,900L1000,920L990,940L975,930Z"/>
<path class="w" d="M1325,885L1555,770L1555,830L1325,950Z"/>
<path class="l" d="M1130,-52L1130,120M1160,265L1160,450M1255,765L1380,830"/>
</g>

<!-- t14.svg -->
<g transform="translate(320,1300) scale(0.29557)">
<path class="w" d="M295,535Q300,480 340,420Q380,355 420,330L445,325L1215,740L1195,750L1340,835L1340,860L1245,900L1140,852L1140,910L1145,923L1118,1020L913,1129L900,1116L921,967L1020,905L1000,905L930,870L880,800L790,745L750,760L440,600L400,590L390,610L330,600Z"/>
<path class="d" d="M430,348L1150,738M365,420L1005,760"/>
<path class="o" d="M1070,800L1245,900M1070,800L1140,852M1060,790L1020,905M1060,790L1060,880L1140,910"/>
<ellipse class="o" cx="340.0" cy="565.0" rx="27.0" ry="35.0" transform="rotate(-20.0 340.0 565.0)"/><ellipse class="o" cx="680.0" cy="660.0" rx="27.0" ry="35.0" transform="rotate(-20.0 680.0 660.0)"/><ellipse class="o" cx="1055.0" cy="775.0" rx="18.0" ry="24.0" transform="rotate(-20.0 1055.0 775.0)"/>
<path class="w" d="M985,440Q1000,505 1060,512L1100,500L1100,440Z"/>
<path class="w" d="M1075,200L1110,195L1112,215L1078,220ZM1135,225L1160,222L1160,245L1137,248Z"/>
<path class="w" d="M920,230L1020,180L1195,265L1195,455L1100,500L920,410Z"/><path class="o" d="M920,230L1100,315L1195,265M1100,315L1100,500"/>
<path class="d" style="stroke-width:1.4" d="M1110,140Q1230,170 1300,215M1175,105Q1270,150 1320,192M1215,85Q1270,140 1345,182"/>
<path class="w" d="M1290,235L1330,180Q1345,175 1360,180L1520,250Q1545,265 1530,300L1490,335Q1465,345 1440,335L1300,270Q1285,255 1290,235Z"/>
<path class="d" d="M1300,245L1450,315Q1475,310 1500,270"/>
<path class="l" d="M165,645L295,580M200,915L400,815M725,170L915,270M1370,310L1370,385"/>
</g>
<g transform="translate(450.1,1532.0) rotate(-26.6)"><path class="w" d="M0,-3.8L33.0,-3.8A1.9,3.8 0 0 1 33.0,3.8L0,3.8Z"/><path class="d" d="M9.9,-3.8Q11.8,0 10.7,3.8M13.2,-3.8Q15.1,0 14.0,3.8M16.5,-3.8Q18.4,0 17.3,3.8M19.8,-3.8Q21.7,0 20.6,3.8M23.1,-3.8Q25.0,0 23.9,3.8M26.4,-3.8Q28.3,0 27.2,3.8M29.7,-3.8Q31.6,0 30.5,3.8"/><path class="w" d="M-4.0,-9.0L0,-9.0A7.2,9.0 0 0 1 0,9.0L-4.0,9.0Z"/><ellipse class="w" cx="-4.0" cy="0" rx="7.2" ry="9.0"/><path class="d" d="M-7.6,-1.3L-0.4,1.3M-4.7,-5.4L-3.3,5.4"/></g>
<text x="348.7" y="1502.5">40</text>
<text x="357" y="1584">41</text>
<text x="514.5" y="1350">37</text>
<text x="723.4" y="1434.5">38</text>
<text x="779.6" y="1466">39</text>

<!-- t15.svg -->
<g transform="translate(640,1180) scale(0.12315)">
<path class="w" d="M1060,640Q1050,560 1110,520Q1170,470 1240,450L1310,440Q1370,460 1385,540Q1380,600 1365,650Q1370,720 1350,780Q1320,850 1250,880Q1200,900 1140,905Q1080,900 1065,830Q1050,770 1070,720Q1055,690 1060,640Z"/>
<ellipse class="o" cx="1222.0" cy="530.0" rx="33.0" ry="45.0" transform="rotate(-10.0 1222.0 530.0)"/><ellipse class="o" cx="1117.0" cy="830.0" rx="30.0" ry="40.0" transform="rotate(-10.0 1117.0 830.0)"/>
<path class="d" d="M1170,530L1100,710M1250,620Q1160,700 1190,890M1200,510L1265,620M1265,620L1290,560"/>
<path class="l" d="M1107,75L1107,530M245,805L620,1000"/>
</g>
<g transform="translate(725.0,1310.5) rotate(-28.0)"><path class="w" d="M0,-3.7L34.0,-3.7A1.9,3.7 0 0 1 34.0,3.7L0,3.7Z"/><path class="d" d="M10.2,-3.7Q12.0,0 10.9,3.7M12.8,-3.7Q14.6,0 13.5,3.7M15.3,-3.7Q17.2,0 16.0,3.7M17.9,-3.7Q19.7,0 18.6,3.7M20.4,-3.7Q22.2,0 21.1,3.7M23.0,-3.7Q24.8,0 23.7,3.7M25.5,-3.7Q27.4,0 26.2,3.7M28.1,-3.7Q29.9,0 28.8,3.7M30.6,-3.7Q32.5,0 31.3,3.7"/><path class="w" d="M-5.0,-9.2L0,-9.2A7.4,9.2 0 0 1 0,9.2L-5.0,9.2Z"/><ellipse class="w" cx="-5.0" cy="0" rx="7.4" ry="9.2"/><path class="d" d="M-8.7,-1.4L-1.3,1.4M-5.7,-5.5L-4.3,5.5"/></g>

<!-- t16.svg -->
<g transform="translate(740,1380) scale(0.23399)">
<ellipse class="w" cx="365.0" cy="758.0" rx="250.0" ry="302.0" transform="rotate(-22.0 365.0 758.0)"/><ellipse class="w" cx="350.0" cy="765.0" rx="252.0" ry="305.0" transform="rotate(-22.0 350.0 765.0)"/><ellipse class="d" cx="358.0" cy="762.0" rx="240.0" ry="292.0" transform="rotate(-22.0 358.0 762.0)"/><ellipse class="o" cx="335.0" cy="772.0" rx="168.0" ry="205.0" transform="rotate(-22.0 335.0 772.0)"/>
<ellipse class="w" cx="1408.0" cy="412.0" rx="50.0" ry="62.0" transform="rotate(-20.0 1408.0 412.0)"/><ellipse class="d" cx="1408.0" cy="412.0" rx="35.0" ry="45.0" transform="rotate(-20.0 1408.0 412.0)"/>
<path class="d" d="M1375,380L1385,390M1372,410L1384,412M1378,440L1388,435M1395,460L1398,448M1420,462L1418,450M1440,445L1430,438M1448,415L1436,414M1443,385L1432,392M1425,362L1420,375M1400,358L1402,371"/>
<path class="w" d="M633.4,348.2L963.4,133.2L977.3,125.1L992.0,118.3L1007.3,112.8L1023.1,108.9L1039.5,106.3L1056.2,105.3L1073.2,105.7L1090.3,107.6L1107.5,111.0L1124.7,115.8L1141.7,122.0L1158.5,129.6L1174.9,138.6L1190.8,148.8L1206.2,160.2L1220.9,172.7L1234.9,186.3L1248.0,200.9L1260.3,216.4L1271.5,232.7L1281.7,249.6L1290.7,267.2L1298.6,285.2L1305.3,303.6L1310.7,322.2L1314.8,341.0L1317.6,359.9L1319.0,378.6L1319.1,397.1L1317.8,415.3L1315.2,433.1L1311.3,450.3L1306.0,466.9L1299.5,482.7L1291.8,497.7L1282.9,511.7L1272.8,524.7L1261.7,536.6L1249.6,547.3L1236.6,556.8L906.6,771.8Z"/>
<ellipse class="w" cx="770.0" cy="560.0" rx="205.0" ry="252.0" transform="rotate(-32.0 770.0 560.0)"/>
<path class="o" d="M1300,330L1345,320L1360,360L1330,380M1320,490L1345,500L1340,540L1310,530"/>
<ellipse class="w" cx="770.0" cy="565.0" rx="150.0" ry="195.0" transform="rotate(-32.0 770.0 565.0)"/>
<ellipse class="d" cx="770.0" cy="565.0" rx="182.0" ry="232.0" transform="rotate(-32.0 770.0 565.0)"/>
<path class="d" d="M650,620Q700,720 820,770M680,600Q720,690 830,740M700,430Q800,450 870,520"/>
<path class="d" d="M650,330L1000,150M640,380L960,210M600,440L760,520M640,600L870,480M900,420L1210,262M815,385L1140,215"/>
<path class="w" d="M930,215L1010,160L1190,145L1190,170L1110,220L1000,280Z"/><path class="w" d="M985,210L1160,140L1185,150L1185,170L1010,240Z"/>
<path class="w" d="M550,400L600,375L635,390L635,425L585,445L550,430Z"/><path class="w" d="M555,555L605,530L635,545L635,580L590,600L555,585Z"/><path class="w" d="M850,560L900,538L935,552L935,585L890,605L850,590Z"/><path class="w" d="M855,715L905,693L938,707L938,740L893,760L855,745Z"/>
<path class="w" d="M725,440L770,425L790,470L750,495Z"/>
<ellipse class="o" cx="600.0" cy="470.0" rx="15.0" ry="20.0" transform="rotate(-20.0 600.0 470.0)"/><ellipse class="o" cx="940.0" cy="640.0" rx="15.0" ry="20.0" transform="rotate(-20.0 940.0 640.0)"/>
<path class="l" d="M940,650L670,785L1110,1020L915,1120M1160,665L1160,780M395,1065L395,1185M720,1130L720,1225M1550,385L1550,580M250,295L410,212M40,1040L40,1360"/>
</g>
<g transform="translate(848.8,1698.2) rotate(-27.4)"><path class="w" d="M0,-2.4L109.4,-2.4A1.2,2.4 0 0 1 109.4,2.4L0,2.4Z"/><path class="d" d="M67.8,-2.4Q69.0,0 68.3,2.4M71.8,-2.4Q73.0,0 72.3,2.4M75.9,-2.4Q77.1,0 76.3,2.4M79.9,-2.4Q81.1,0 80.3,2.4M83.9,-2.4Q85.1,0 84.4,2.4M87.9,-2.4Q89.1,0 88.4,2.4M91.9,-2.4Q93.1,0 92.4,2.4M95.9,-2.4Q97.1,0 96.4,2.4M99.9,-2.4Q101.1,0 100.4,2.4M103.9,-2.4Q105.1,0 104.4,2.4"/><path class="w" d="M-4.0,-8.8L0,-8.8A7.0,8.8 0 0 1 0,8.8L-4.0,8.8Z"/><ellipse class="w" cx="-4.0" cy="0" rx="7.0" ry="8.8"/><path class="d" d="M-7.5,-1.3L-0.5,1.3M-4.7,-5.3L-3.3,5.3"/></g>
<text x="1009.1" y="1583">47</text>
<text x="830.1" y="1676">49</text>
<text x="906.6" y="1637.5">48</text>
<text x="1100.4" y="1536">46</text>
<text x="749.4" y="1718.5">50</text>

<!-- t17.svg -->
<g transform="translate(370,1560) scale(0.25862)">
<path class="w" d="M1177.6,189.5L1207.6,177.5L1213.4,175.5L1219.4,174.0L1225.5,173.1L1231.7,172.8L1237.9,173.1L1244.2,173.9L1250.5,175.4L1256.7,177.3L1262.9,179.8L1268.9,182.9L1274.7,186.4L1280.4,190.5L1285.8,195.0L1290.9,200.0L1295.7,205.3L1300.2,211.1L1304.4,217.1L1308.1,223.5L1311.5,230.1L1314.4,237.0L1316.9,244.0L1318.9,251.2L1320.4,258.5L1321.5,265.8L1322.1,273.1L1322.1,280.4L1321.7,287.5L1320.8,294.6L1319.4,301.4L1317.5,308.1L1315.2,314.5L1312.4,320.6L1309.2,326.3L1305.5,331.7L1301.5,336.7L1297.1,341.2L1292.4,345.3L1287.3,348.9L1282.0,352.0L1276.4,354.5L1246.4,366.5Z"/>
<ellipse class="w" cx="1212.0" cy="278.0" rx="78.0" ry="95.0" transform="rotate(-20.0 1212.0 278.0)"/><ellipse class="o" cx="1205.0" cy="280.0" rx="52.0" ry="64.0" transform="rotate(-20.0 1205.0 280.0)"/><ellipse class="d" cx="1202.0" cy="281.0" rx="40.0" ry="50.0" transform="rotate(-20.0 1202.0 281.0)"/><ellipse class="o" cx="1208.0" cy="278.0" rx="22.0" ry="28.0" transform="rotate(-20.0 1208.0 278.0)"/>
<path class="w" d="M1361.5,90.7L1396.5,75.7L1401.6,73.7L1406.9,72.3L1412.4,71.3L1418.0,70.9L1423.6,71.1L1429.3,71.7L1434.9,72.9L1440.6,74.6L1446.2,76.8L1451.6,79.5L1457.0,82.7L1462.2,86.4L1467.2,90.4L1471.9,94.9L1476.4,99.8L1480.6,105.0L1484.5,110.6L1488.1,116.4L1491.3,122.5L1494.1,128.8L1496.5,135.2L1498.6,141.8L1500.2,148.5L1501.3,155.3L1502.1,162.0L1502.3,168.8L1502.2,175.4L1501.6,182.0L1500.5,188.3L1499.0,194.5L1497.1,200.5L1494.8,206.2L1492.1,211.6L1489.0,216.6L1485.5,221.3L1481.7,225.6L1477.5,229.5L1473.1,232.9L1468.4,235.9L1463.5,238.3L1428.5,253.3Z"/>
<ellipse class="w" cx="1395.0" cy="172.0" rx="70.0" ry="88.0" transform="rotate(-20.0 1395.0 172.0)"/><ellipse class="w" cx="1392.0" cy="174.0" rx="46.0" ry="58.0" transform="rotate(-20.0 1392.0 174.0)"/>
<ellipse cx="1392" cy="174" rx="46" ry="58" transform="rotate(-20 1392 174)" fill="none" stroke="#000" stroke-width="3.5"/>
<ellipse class="o" cx="1392.0" cy="176.0" rx="22.0" ry="30.0" transform="rotate(-20.0 1392.0 176.0)"/>
<path class="l" d="M1248,365L1248,655M1468,255L1468,540M692,720L692,945"/>
<g transform="translate(90,866) rotate(-27.2)">
<path class="w" d="M1000,-22L1075,-22A8,22 0 0 1 1075,22L1000,22Z"/>
<path class="w" d="M880,-98L1000,-98A30,98 0 0 1 1000,98L880,98Z"/>
<path class="d" d="M880,-96.5L995,-96.5M880,-84.9L995,-84.9M880,-63.0L995,-63.0M880,-33.5L995,-33.5M880,0.0L995,0.0M880,33.5L995,33.5M880,63.0L995,63.0M880,84.9L995,84.9M880,96.5L995,96.5"/>
<ellipse class="w" cx="880.0" cy="0.0" rx="30.0" ry="98.0" transform="rotate(0.0 880.0 0.0)"/>
<path class="w" d="M770,-130Q850,-130 890,-100L890,100Q850,130 770,130Z"/>
<path class="w" d="M389,-138L770,-138A48,138 0 0 1 770,138L389,138Z"/>
<path class="d" d="M429.5,-133.3L759.5,-133.3M442.9,-119.5L772.9,-119.5M453.4,-97.6L783.4,-97.6M461.4,-69.0L791.4,-69.0M466.3,-35.7L796.3,-35.7M468.0,0.0L798.0,0.0M466.3,35.7L796.3,35.7M461.4,69.0L791.4,69.0M453.4,97.6L783.4,97.6M442.9,119.5L772.9,119.5M429.5,133.3L759.5,133.3"/>
<path class="o" d="M420,-136A48,136 0 0 1 420,136M750,-136A48,136 0 0 1 750,136M770,-136A48,136 0 0 1 770,136"/>
<path class="w" d="M389,-138Q300,-140 255,-70Q240,0 255,70Q300,140 389,138Z"/>
<path class="w" d="M140,-45L290,-45A18,45 0 0 1 290,45L140,45Z"/>
<path class="d" d="M170,-45A18,45 0 0 1 170,45M200,-45A18,45 0 0 1 200,45M240,-45A18,45 0 0 1 240,45"/>
<ellipse class="w" cx="140.0" cy="0.0" rx="18.0" ry="45.0" transform="rotate(0.0 140.0 0.0)"/>
<path class="w" d="M0,-26L140,-26L140,26L0,26Z"/>
<ellipse class="w" cx="0.0" cy="0.0" rx="11.0" ry="26.0" transform="rotate(0.0 0.0 0.0)"/><ellipse class="d" cx="0.0" cy="0.0" rx="5.0" ry="14.0" transform="rotate(0.0 0.0 0.0)"/>
</g>
</g>
<text x="689.4" y="1751">51</text>
<text x="547.9" y="1825">52</text>

<!-- t18.svg -->
<g transform="translate(130,1760) scale(0.18473)">
<path class="wf" d="M812.3,55.9L912.3,5.9L930.7,-2.1L950.0,-8.2L970.1,-12.3L990.8,-14.5L1012.0,-14.7L1033.6,-12.8L1055.5,-9.0L1077.5,-3.2L1099.5,4.5L1121.3,14.1L1142.8,25.6L1163.9,38.8L1184.5,53.6L1204.4,70.1L1223.5,88.0L1241.7,107.3L1258.9,127.8L1274.9,149.5L1289.7,172.2L1303.2,195.7L1315.2,219.9L1325.8,244.6L1334.8,269.8L1342.3,295.2L1348.0,320.7L1352.1,346.2L1354.5,371.4L1355.2,396.2L1354.2,420.5L1351.4,444.1L1346.9,466.9L1340.7,488.8L1332.9,509.5L1323.5,529.0L1312.6,547.2L1300.2,563.8L1286.5,579.0L1271.4,592.4L1255.1,604.1L1237.7,614.1L1137.7,664.1Z"/>
<path class="o" style="stroke-width:1.5" d="M827.3,48.4L915.8,-29.5L861.4,35.3L954.6,-40.3L898.2,28.5L995.7,-44.1L936.8,28.4L1038.5,-40.6L976.5,34.9L1082.1,-30.0L1016.4,47.8L1125.4,-12.5L1055.9,67.0L1167.8,11.6L1094.0,91.9L1208.3,41.8L1129.9,122.2L1246.0,77.4L1163.1,157.1L1280.3,117.8L1192.7,196.0L1310.4,162.0L1218.2,238.2L1335.7,209.3L1239.0,282.6L1355.7,258.7L1254.7,328.4L1370.0,309.0L1265.1,374.8L1378.3,359.4L1269.9,420.7L1380.4,408.8L1269.0,465.2L1376.2,456.2L1262.4,507.4L1366.0,500.6L1250.2,546.5L1349.8,541.1L1232.8,581.6L1328.1,577.0L1210.4,612.0L1301.2,607.4L1183.5,637.2L1269.6,631.7L1152.7,656.6"/>
<ellipse class="w" cx="975.0" cy="360.0" rx="255.0" ry="345.0" transform="rotate(-30.0 975.0 360.0)"/>
<ellipse class="o" cx="980.0" cy="360.0" rx="118.0" ry="148.0" transform="rotate(-30.0 980.0 360.0)"/><ellipse class="o" cx="972.0" cy="358.0" rx="72.0" ry="92.0" transform="rotate(-30.0 972.0 358.0)"/><ellipse class="o" cx="978.0" cy="362.0" rx="45.0" ry="60.0" transform="rotate(-30.0 978.0 362.0)"/>
<path class="d" d="M930,235Q940,260 930,280M1020,460Q1050,455 1080,470"/>
<path class="w" d="M471.8,481.9L533.8,449.9L540.8,446.6L548.1,444.1L555.6,442.4L563.3,441.4L571.2,441.2L579.1,441.7L587.1,443.0L595.1,445.1L603.1,447.9L610.9,451.4L618.6,455.7L626.1,460.6L633.4,466.2L640.4,472.4L647.0,479.2L653.3,486.5L659.2,494.3L664.6,502.5L669.6,511.1L674.0,520.1L677.9,529.3L681.3,538.8L684.0,548.5L686.2,558.2L687.7,568.0L688.7,577.8L689.0,587.5L688.6,597.1L687.7,606.5L686.1,615.6L683.9,624.5L681.2,633.0L677.8,641.0L673.9,648.6L669.4,655.7L664.5,662.2L659.0,668.2L653.1,673.5L646.8,678.2L640.2,682.1L578.2,714.1Z"/>
<ellipse class="w" cx="525.0" cy="598.0" rx="98.0" ry="128.0" transform="rotate(-20.0 525.0 598.0)"/>
<ellipse cx="520" cy="601" rx="76" ry="100" transform="rotate(-20 520 601)" fill="none" stroke="#000" stroke-width="3.5"/>
<ellipse class="o" cx="518.0" cy="604.0" rx="50.0" ry="63.0" transform="rotate(-20.0 518.0 604.0)"/><ellipse class="o" cx="510.0" cy="608.0" rx="32.0" ry="39.0" transform="rotate(-20.0 510.0 608.0)"/>
<path class="k" d="M130,600L330,700L330,920L130,820Z"/>
<path d="M160,830L225,680L255,690L310,890L280,880L262,815L200,790L188,835ZM210,765L258,785L240,715Z" fill="#fff"/>
<path class="l" d="M330,700L505,610M582,720L582,1125M1075,690L1075,865"/>
</g>
<text x="326.7" y="1941">53</text>
<text x="235.7" y="1990">54</text>

<!-- t19.svg -->
<g transform="translate(1270,1300) scale(0.1601)">
<ellipse class="w" cx="1090.0" cy="695.0" rx="28.0" ry="45.0" transform="rotate(-20.0 1090.0 695.0)"/>
<ellipse class="w" cx="1061.4" cy="682.1" rx="28.0" ry="45.0" transform="rotate(-20.0 1061.4 682.1)"/>
<ellipse class="w" cx="1032.9" cy="669.3" rx="28.0" ry="45.0" transform="rotate(-20.0 1032.9 669.3)"/>
<ellipse class="w" cx="1004.3" cy="656.4" rx="28.0" ry="45.0" transform="rotate(-20.0 1004.3 656.4)"/>
<ellipse class="w" cx="975.7" cy="643.6" rx="28.0" ry="45.0" transform="rotate(-20.0 975.7 643.6)"/>
<ellipse class="w" cx="947.1" cy="630.7" rx="28.0" ry="45.0" transform="rotate(-20.0 947.1 630.7)"/>
<ellipse class="w" cx="918.6" cy="617.9" rx="28.0" ry="45.0" transform="rotate(-20.0 918.6 617.9)"/>
<ellipse class="w" cx="890.0" cy="605.0" rx="28.0" ry="45.0" transform="rotate(-20.0 890.0 605.0)"/>
<ellipse class="w" cx="1130.0" cy="720.0" rx="42.0" ry="58.0" transform="rotate(-20.0 1130.0 720.0)"/><ellipse class="o" cx="1128.0" cy="722.0" rx="22.0" ry="30.0" transform="rotate(-20.0 1128.0 722.0)"/>
<path class="w" d="M705,515L800,468L930,535L930,580L840,650L705,580Z"/><path class="o" d="M705,515L840,580L930,535M840,580L840,650"/>
<path class="w" d="M845,585L880,568L880,630L845,645Z"/>
<path class="w" d="M1420.6,932.0L1358.6,946.0L1353.9,946.9L1349.1,947.2L1344.2,947.0L1339.2,946.3L1334.2,945.0L1329.2,943.2L1324.2,941.0L1319.3,938.2L1314.4,935.0L1309.7,931.3L1305.1,927.2L1300.7,922.7L1296.4,917.8L1292.4,912.6L1288.7,907.1L1285.2,901.3L1282.0,895.2L1279.2,888.9L1276.6,882.5L1274.4,876.0L1272.6,869.3L1271.2,862.6L1270.1,856.0L1269.4,849.3L1269.1,842.7L1269.2,836.3L1269.7,830.0L1270.6,823.9L1271.8,818.0L1273.5,812.4L1275.5,807.2L1277.9,802.2L1280.6,797.6L1283.6,793.5L1287.0,789.7L1290.6,786.4L1294.5,783.5L1298.6,781.2L1302.9,779.3L1307.4,778.0L1369.4,764.0Z"/>
<ellipse class="w" cx="1395.0" cy="848.0" rx="60.0" ry="88.0" transform="rotate(-20.0 1395.0 848.0)"/>
<path class="d" d="M1347.7,768.9L1359.6,767.7L1372.1,769.9L1384.6,775.3L1396.6,783.6L1407.8,794.6L1417.6,807.8L1425.8,822.8L1431.9,838.9L1435.7,855.6L1437.2,872.2L1436.2,888.0L1432.8,902.5L1427.1,915.0L1419.3,925.2L1409.8,932.6L1398.9,936.9M1326.0,773.8L1337.9,772.6L1350.4,774.8L1362.9,780.2L1374.9,788.5L1386.1,799.5L1395.9,812.7L1404.1,827.7L1410.2,843.8L1414.0,860.5L1415.5,877.1L1414.5,892.9L1411.1,907.4L1405.4,919.9L1397.6,930.1L1388.1,937.5L1377.2,941.8"/>
<path d="M1342,888L1432,840" stroke="#000" stroke-width="3" fill="none"/>
<path class="l" d="M1050,180L1050,625M1385,350L1385,760M318,985L318,1390"/>
</g>
<text x="1215.6" y="1095.5">42</text>
<text x="1435.7" y="1322">43</text>
<text x="1489.3" y="1351">44</text>
<text x="1318.8" y="1544">45</text>

<!-- t20.svg -->
<g transform="translate(790,1310) scale(0.06773)">
<path class="w" d="M590,1240L700,1180L760,1180L860,1280L1070,1370L1330,1270L1330,1330L1390,1370Q1415,1390 1415,1420L1410,1830Q1390,1900 1330,1930L1140,2010Q1100,2010 1080,1990Q1000,1880 850,1780Q780,1740 700,1735Q610,1720 590,1660Z"/>
<path class="o" d="M610,1260L920,1420L940,1330M1090,1470L1350,1350M1100,1530L1360,1400M1090,1470Q1070,1500 1100,1530"/>
<path class="d" d="M1125,1540L1125,1990"/>
<path class="w" d="M280,300L520,175Q545,165 570,180L700,255Q720,262 760,265L990,290Q1030,295 1060,310L1460,520L1470,1190L1070,1370L940,1320L860,1280L760,1180L700,1150L280,940Z"/>
<path class="o" d="M280,320L1060,740L1460,540M280,480L360,500L440,520L440,660L280,590M280,740L360,760L440,780L440,930L280,860"/>
<path class="d" d="M1070,760L1070,1360M360,500L360,560M360,760L360,820"/>
</g>


</svg>
</body></html>
